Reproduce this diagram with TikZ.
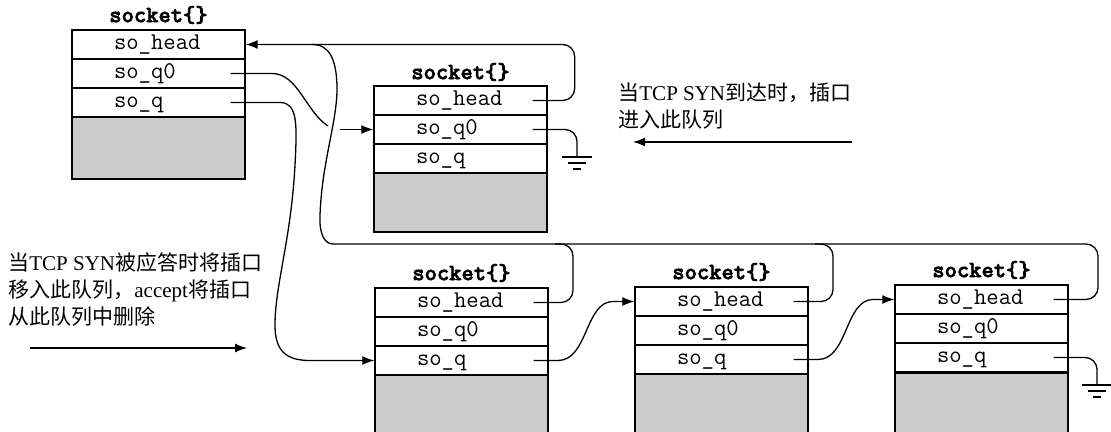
\documentclass[tikz,border=0pt]{standalone}
\usepackage{fontspec}
\setmainfont{Liberation Serif}
\newfontfamily\cjk{Noto Sans CJK SC}
\newfontfamily\ttb{lmmonolt10-bold}[Extension=.otf, FakeBold=2.5]
\usetikzlibrary{arrows.meta}
\tikzset{
  fld/.style={draw, line width=0.7pt, minimum width=86.5pt, minimum height=14.5pt, text width=44.5pt, inner xsep=21pt, inner ysep=0pt, align=left, text height=7.5pt, text depth=2.5pt, font=\ttfamily\fontsize{12}{14}\selectfont},
  gry/.style={draw, line width=0.7pt, fill=gray!40, minimum width=86.5pt, inner sep=0pt},
  ttl/.style={font=\ttb\fontsize{11.7}{14}\selectfont},
  txt/.style={anchor=west, align=left, inner sep=0pt, font=\fontsize{10.5}{13.5}\selectfont},
  lnk/.style={line width=0.65pt},
  arr/.style={line width=0.65pt, -{Latex[length=6pt,width=4.5pt]}},
  gnd/.pic={\draw[line width=0.65pt] (-7.5pt,0)--(7.5pt,0) (-4.5pt,-3pt)--(4.5pt,-3pt) (-2pt,-6pt)--(2pt,-6pt);}
}
\begin{document}
\begin{tikzpicture}[x=0.5pt,y=-0.5pt]
\useasboundingbox (0,0) rectangle (1111,432);
% listening socket
\node[ttl](A0) at (158.5,15){socket\{\}};
\node[fld](A1) at (158.5,44.5){so\_head};
\node[fld](A2) at (158.5,73.5){so\_q0};
\node[fld](A3) at (158.5,102.5){so\_q};
\node[gry, minimum height=31pt](A4) at (158.5,148){};
% socket on so_q0
\node[ttl](B0) at (460.5,72){socket\{\}};
\node[fld](B1) at (460.5,100.5){so\_head};
\node[fld](B2) at (460.5,129.5){so\_q0};
\node[fld](B3) at (460.5,158.5){so\_q};
\node[gry, minimum height=29.5pt](B4) at (460.5,202.5){};
% sockets on so_q
\node[ttl](C0) at (461.5,273){socket\{\}};
\node[fld](C1) at (461.5,302.5){so\_head};
\node[fld](C2) at (461.5,331.5){so\_q0};
\node[fld](C3) at (461.5,360.5){so\_q};
\node[gry, minimum height=35pt](C4) at (461.5,410){};
\node[ttl](D0) at (721.5,272){socket\{\}};
\node[fld](D1) at (721.5,301.5){so\_head};
\node[fld](D2) at (721.5,330.5){so\_q0};
\node[fld](D3) at (721.5,359.5){so\_q};
\node[gry, minimum height=35pt](D4) at (721.5,409.5){};
\node[ttl](E0) at (981.5,270){socket\{\}};
\node[fld](E1) at (981.5,299.5){so\_head};
\node[fld](E2) at (981.5,328.5){so\_q0};
\node[fld](E3) at (981.5,357.5){so\_q};
\node[gry, minimum height=35pt](E4) at (981.5,408.5){};
% texts
\node[txt](T1) at (618,106.5){{\cjk 当}TCP SYN{\cjk 到达时，插口}\\{\cjk 进入此队列}};
\node[txt](T2) at (8,289){{\cjk 当}TCP SYN{\cjk 被应答时将插口}\\{\cjk 移入此队列，}accept{\cjk 将插口}\\{\cjk 从此队列中删除}};
\coordinate (a1) at (852,142);
\coordinate (a2) at (633,142);
\coordinate (b1) at (30,348);
\coordinate (b2) at (247,348);
\draw[arr] (a1) -- (a2);
\draw[arr] (b1) -- (b2);
% so_head links
\coordinate (jn) at (312,44.5);
\draw[arr, rounded corners=6pt] ([xshift=-7.5pt]B1.east) -- ++(21pt,0) |- (A1.east);
\draw[lnk] ([xshift=-7.5pt]E1.east) [rounded corners=6pt] -| (1098,244) -- (345,244) [sharp corners] .. controls (325,244) and (319,235) .. (320,215) .. controls (322,160) and (338,120) .. (337,85) .. controls (336,60) and (330,44.5) .. (jn);
\draw[lnk, rounded corners=6pt] ([xshift=-7.5pt]C1.east) -| (573,244) -- (555,244);
\draw[lnk, rounded corners=6pt] ([xshift=-7.5pt]D1.east) -| (833,244) -- (815,244);
% so_q0 links
\coordinate (q0e) at (328,126);
\coordinate (q0s) at (340,129.5);
\draw[lnk] ([xshift=-7.5pt]A2.east) -- (272,73.5) .. controls (298,73.5) and (306,112) .. (q0e);
\draw[arr] (q0s) -- (B2.west);
\coordinate (gB) at (577,157);
\draw[lnk, rounded corners=6pt] ([xshift=-7.5pt]B2.east) -| (gB);
\pic at (gB) {gnd};
% so_q links
\draw[arr] ([xshift=-7.5pt]A3.east) -- (280,102.5) .. controls (298,102.5) and (297,125) .. (295,165) .. controls (291,240) and (275,285) .. (275,325) .. controls (275,350) and (285,360.5) .. (310,360.5) -- (C3.west);
\draw[arr] ([xshift=-7.5pt]C3.east) -- (558,360.5) .. controls (588,360.5) and (585,301.5) .. (613,301.5) -- (D1.west);
\draw[arr] ([xshift=-7.5pt]D3.east) -- (818,359.5) .. controls (848,359.5) and (845,299.5) .. (873,299.5) -- (E1.west);
\coordinate (gE) at (1097,385);
\draw[lnk, rounded corners=6pt] ([xshift=-7.5pt]E3.east) -| (gE);
\pic at (gE) {gnd};
\end{tikzpicture}
\end{document}
